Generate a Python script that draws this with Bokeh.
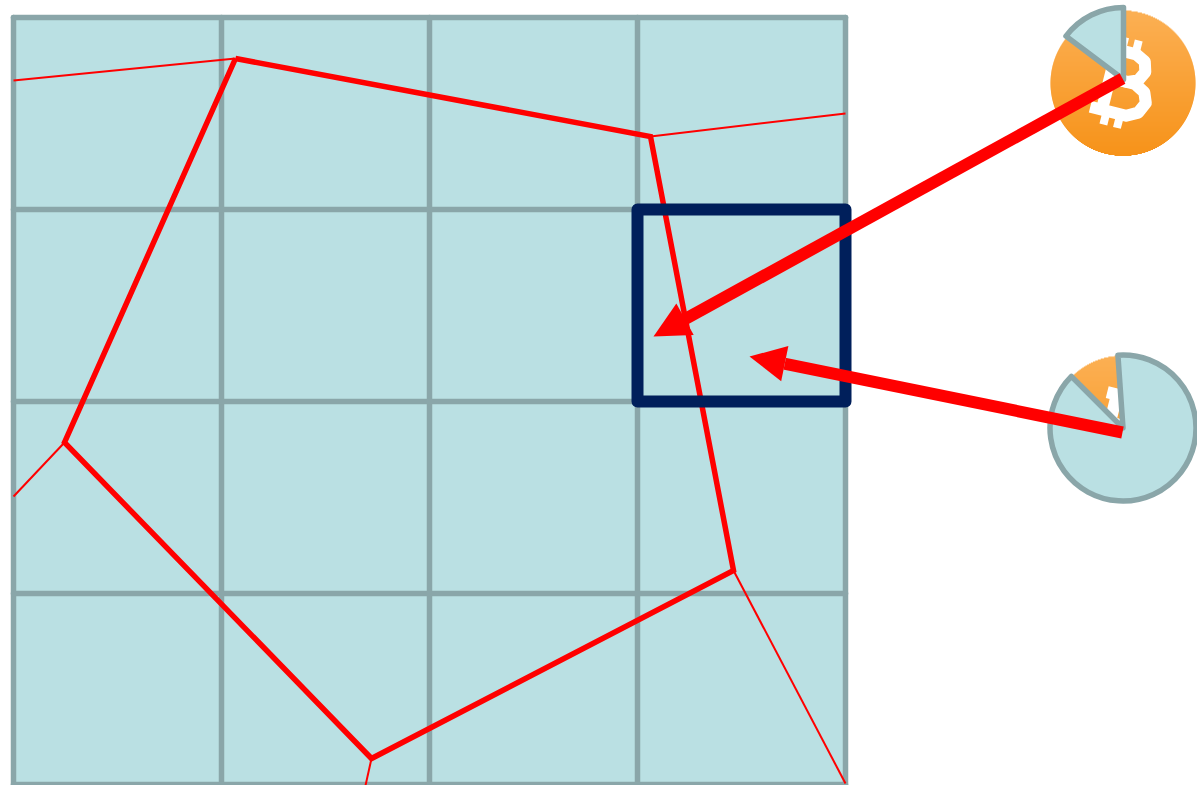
import numpy as np
from bokeh.plotting import figure
from bokeh.models import Range1d, Arrow, NormalHead, ColumnDataSource
from bokeh.embed import file_html
from bokeh.resources import INLINE

grid_x = [13, 221, 429, 637, 845]
grid_y = [17, 209, 401, 593, 784]
ring_x = [235, 650, 733, 371, 64, 235]
ring_y = [58, 136, 570, 758, 442, 58]
spur_x = [[13, 235], [650, 845], [64, 13], [733, 845], [371, 365]]
spur_y = [[80, 58], [136, 113], [442, 496], [570, 783], [758, 785]]
box = dict(left=637, right=845, top=209, bottom=401)
logo_x = [1122.5, 1122.5]
logo_y = [82.5, 427.5]
logo_r = 72.5
pie_x = [1123, 1122.5]
pie_y = [79, 427.5]
pie_r = [72, 73]
pie_start = [90, 135]
pie_end = [143, 94]
arrow_x0 = [1122, 1122]
arrow_y0 = [78, 432]
arrow_x1 = [653, 749]
arrow_y1 = [336, 356]

CELL, GRID, NAVY, RED = "#bae0e3", "#8aa6a9", "#001f5b", "#ff0000"
TOP, BOT = np.array([252, 176, 84]), np.array([247, 147, 26])

p = figure(width=1197, height=785, output_backend="svg", toolbar_location=None,
           x_range=Range1d(0, 1197), y_range=Range1d(785, 0), min_border=0,
           outline_line_color=None, background_fill_color="white")
p.axis.visible = False
p.grid.visible = False

# panel and grid
p.quad(left=[grid_x[0]], right=[grid_x[-1]], top=[grid_y[0]], bottom=[grid_y[-1]],
       fill_color=CELL, line_color=None)
p.multi_line(xs=[[x, x] for x in grid_x] + [[grid_x[0], grid_x[-1]] for _ in grid_y],
             ys=[[grid_y[0], grid_y[-1]] for _ in grid_x] + [[y, y] for y in grid_y],
             line_color=GRID, line_width=5.5, line_cap="round")

# red network
p.multi_line(xs=spur_x, ys=spur_y, line_color=RED, line_width=2)
p.line(ring_x, ring_y, line_color=RED, line_width=5.5, line_join="miter")

# navy selection
p.quad(left=[box["left"]], right=[box["right"]], top=[box["top"]], bottom=[box["bottom"]],
       fill_color=None, line_color=NAVY, line_width=12, line_join="round")

# coin logos (gradient disc from stacked rows + white symbol)
b_bowls = [
    [(-24, -31), (6, -31), (16, -26), (19, -16), (14, -6), (4, -2), (-14, -2)],
    [(-14, -2), (12, -2), (23, 4), (27, 14), (22, 25), (11, 31), (-26, 31)],
    [(-14, -31), (-14, 31)],
]
b_ticks = [
    [(-9, -31), (-9, -45)], [(5, -31), (5, -45)],
    [(-9, 31), (-9, 45)], [(5, 31), (5, 45)],
]
theta = np.deg2rad(14)


def place(paths, cx, cy):
    xs, yy = [], []
    for path in paths:
        a = np.array(path, dtype=float)
        xs.append(list(cx + a[:, 0] * np.cos(theta) - a[:, 1] * np.sin(theta)))
        yy.append(list(cy + a[:, 0] * np.sin(theta) + a[:, 1] * np.cos(theta)))
    return xs, yy


for cx, cy in zip(logo_x, logo_y):
    ys = np.arange(-logo_r, logo_r, 1.0)
    half = np.sqrt(np.maximum(logo_r**2 - (ys + 0.5)**2, 0))
    t = (ys + logo_r) / (2 * logo_r)
    cols = ["#%02x%02x%02x" % tuple((TOP + (BOT - TOP) * f).astype(int)) for f in t]
    p.quad(left=cx - half, right=cx + half, top=cy + ys, bottom=cy + ys + 1.4,
           fill_color=cols, line_color=None)
    xs, yy = place(b_bowls, cx, cy)
    p.multi_line(xs=xs, ys=yy, line_color="white", line_width=12, line_join="round")
    xs, yy = place(b_ticks, cx, cy)
    p.multi_line(xs=xs, ys=yy, line_color="white", line_width=8)

# pie overlays
p.wedge(x=pie_x, y=pie_y, radius=pie_r, start_angle=pie_start, end_angle=pie_end,
        start_angle_units="deg", end_angle_units="deg", direction="anticlock",
        fill_color=CELL, line_color=GRID, line_width=5.5, line_join="round")

# arrows
src = ColumnDataSource(dict(x0=arrow_x0, y0=arrow_y0, x1=arrow_x1, y1=arrow_y1))
p.add_layout(Arrow(end=NormalHead(size=36, fill_color=RED, line_color=None),
                   x_start="x0", y_start="y0", x_end="x1", y_end="y1", source=src,
                   line_color=RED, line_width=12))

open("out.html", "w").write(file_html(p, INLINE))
